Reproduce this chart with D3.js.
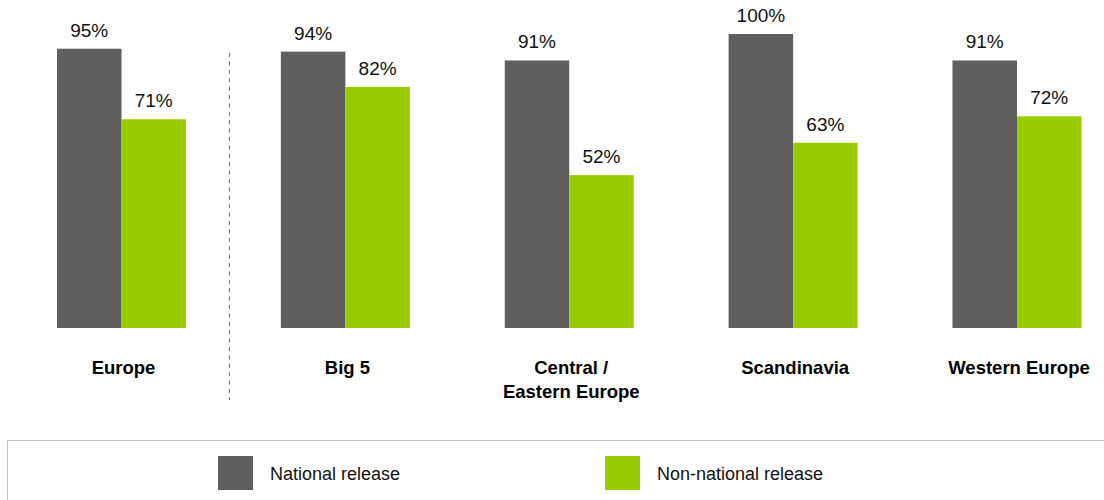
<!DOCTYPE html>
<html>
<head>
<meta charset="utf-8">
<script src="https://cdn.jsdelivr.net/npm/d3@7"></script>
<style>
  html, body { margin: 0; padding: 0; background: #ffffff; }
  svg { display: block; font-family: "Liberation Sans", Arial, sans-serif; }
</style>
</head>
<body>
<svg id="chart" width="1104" height="500"></svg>
<script>
// Regions (each label may span several lines)
const categories = ["Europe", "Big 5", "Central / Eastern Europe", "Scandinavia", "Western Europe"];
const categoryLines = [["Europe"], ["Big 5"], ["Central /", "Eastern Europe"], ["Scandinavia"], ["Western Europe"]];

// Share of releases, in percent
const seriesNames = ["National release", "Non-national release"];
const nationalValues = [95, 94, 91, 100, 91];
const nonNationalValues = [71, 82, 52, 63, 72];
const seriesColors = ["#5f5f5f", "#99cc00"];

const svg = d3.select("#chart");

// Group centres along the x axis
const x = d3.scalePoint().domain(categories).range([121.5, 1017]);
// Bars within a group
const xInner = d3.scaleBand().domain(seriesNames).range([-64.5, 64.5]).padding(0);
const y = d3.scaleLinear().domain([0, 100]).range([328, 34]);

const rows = categories.map((c, i) => ({
  category: c,
  lines: categoryLines[i],
  values: [nationalValues[i], nonNationalValues[i]]
}));

const groups = svg.append("g").selectAll("g")
  .data(rows)
  .join("g")
  .attr("transform", d => `translate(${x(d.category)},0)`);

groups.selectAll("rect")
  .data(d => d.values.map((v, j) => ({ name: seriesNames[j], value: v, color: seriesColors[j] })))
  .join("rect")
  .attr("x", d => xInner(d.name))
  .attr("width", xInner.bandwidth())
  .attr("y", d => y(d.value))
  .attr("height", d => y(0) - y(d.value))
  .attr("fill", d => d.color);

// Value labels above each bar
groups.selectAll("text.value")
  .data(d => d.values.map((v, j) => ({ name: seriesNames[j], value: v })))
  .join("text")
  .attr("class", "value")
  .attr("x", d => xInner(d.name) + xInner.bandwidth() / 2)
  .attr("y", d => y(d.value) - 12)
  .attr("text-anchor", "middle")
  .attr("font-size", 19)
  .attr("fill", "#111")
  .text(d => d.value + "%");

// Category labels below the bars
groups.append("text")
  .attr("class", "cat")
  .attr("text-anchor", "middle")
  .attr("font-size", 18.5)
  .attr("font-weight", "bold")
  .attr("fill", "#000")
  .selectAll("tspan")
  .data(d => d.lines)
  .join("tspan")
  .attr("x", 2)
  .attr("y", (d, i) => 374 + i * 23.5)
  .text(d => d);

// Dashed divider between Europe and the sub-regions
const divX = (x(categories[0]) + x(categories[1])) / 2 - 4;
svg.append("line")
  .attr("x1", divX).attr("x2", divX)
  .attr("y1", 53).attr("y2", 400)
  .attr("stroke", "#6a6a6a")
  .attr("stroke-width", 1)
  .attr("stroke-dasharray", "4,4.4");

// Legend
const legend = svg.append("g");
legend.append("rect")
  .attr("x", 7.5).attr("y", 440.5)
  .attr("width", 1110).attr("height", 80)
  .attr("fill", "none")
  .attr("stroke", "#c4c4c4")
  .attr("stroke-width", 1);

const legendX = [218, 605];
const items = legend.selectAll("g.item")
  .data(seriesNames)
  .join("g")
  .attr("class", "item")
  .attr("transform", (d, i) => `translate(${legendX[i]},456)`);
items.append("rect")
  .attr("width", 35).attr("height", 34)
  .attr("fill", (d, i) => seriesColors[i]);
items.append("text")
  .attr("x", 52).attr("y", 24)
  .attr("font-size", 18)
  .attr("fill", "#111")
  .text(d => d);
</script>
</body>
</html>
